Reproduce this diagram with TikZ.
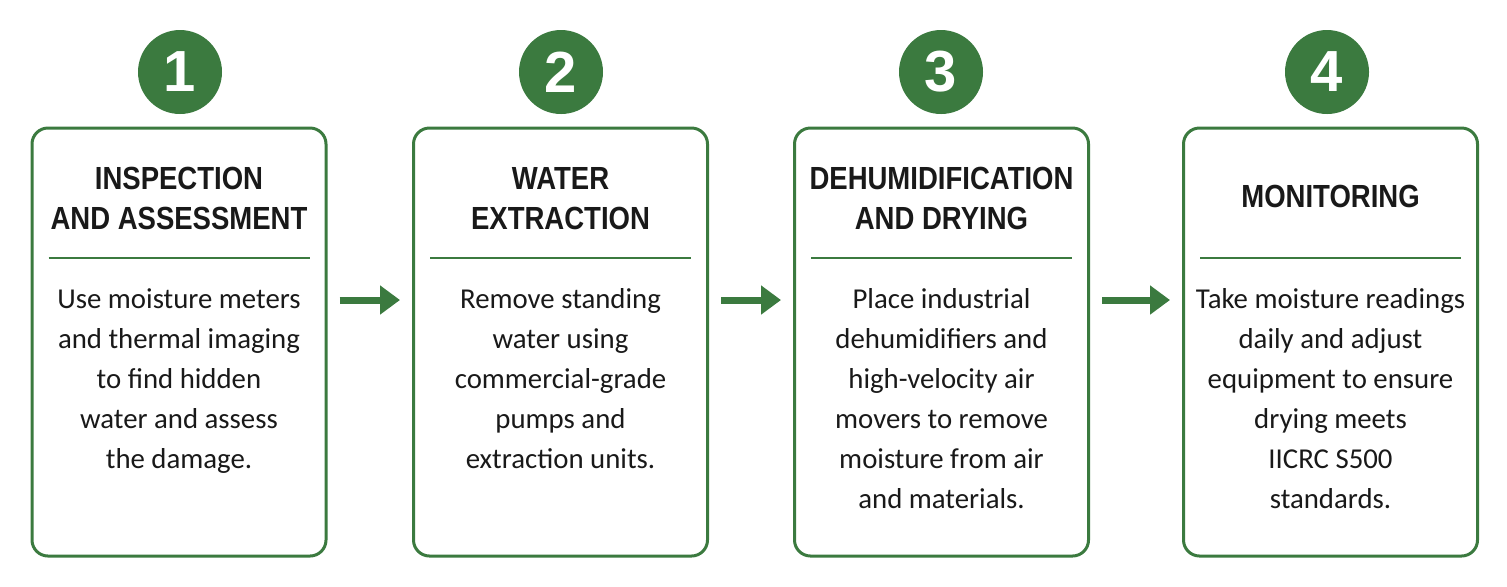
\documentclass[tikz,border=0pt]{standalone}
\usepackage{fontspec}
\setmainfont{Carlito}
\newfontfamily\headfont[FakeStretch=0.86]{Liberation Sans}
\newfontfamily\numfont{Liberation Sans}
\usetikzlibrary{arrows.meta,calc}
\definecolor{grn}{HTML}{3B7A3F}
\begin{document}
\begin{tikzpicture}[x=0.5pt,y=-0.5pt,
  stepbox/.style={draw=grn,line width=1.5pt,rounded corners=8pt,minimum width=147pt,minimum height=214pt,inner sep=0pt,fill=white},
  numdot/.style={circle,fill=grn,minimum size=42pt,inner sep=0pt,text=white,font=\numfont\bfseries\fontsize{29}{30}\selectfont},
  head/.style={anchor=north,align=center,inner sep=0pt,text=black!90,font=\headfont\bfseries\fontsize{16}{20}\selectfont},
  body/.style={anchor=north,align=center,inner sep=0pt,text=black!90,font=\fontsize{14.4}{20}\selectfont},
  sep/.style={draw=grn,line width=1pt},
  flow/.style={draw=grn,line width=3.5pt,-{Triangle[length=10pt,width=14pt]},shorten <=6pt,shorten >=6pt}]
\useasboundingbox (0,0) rectangle (1507,586);
\coordinate (sepline) at (0,258);
\coordinate (arrowrow) at (0,300);

% boxes
\node[stepbox] (b1) at (179,342) {};
\node[stepbox] (b2) at (560.5,342) {};
\node[stepbox] (b3) at (941.5,342) {};
\node[stepbox] (b4) at (1330.5,342) {};

% number circles
\node[numdot] (n1) at (180,72) {1};
\node[numdot] (n2) at (561,72) {2};
\node[numdot] (n3) at (941,72) {3};
\node[numdot] (n4) at (1327,72) {4};

% headings
\node[head] (h1) at (179,161) {\strut INSPECTION\\AND ASSESSMENT};
\node[head] (h2) at (560.5,161) {\strut WATER\\EXTRACTION};
\node[head] (h3) at (941.5,161) {\strut DEHUMIDIFICATION\\AND DRYING};
\node[head] (h4) at (1330.5,179) {\strut MONITORING};

% separators
\foreach \b in {b1,b2,b3,b4}{
  \draw[sep] ($(\b.west |- sepline)+(18,0)$) -- ($(\b.east |- sepline)+(-18,0)$);
}

% body texts
\node[body] (t1) at (179,280) {\strut Use moisture meters\\and thermal imaging\\to find hidden\\water and assess\\the damage.};
\node[body] (t2) at (560.5,280) {\strut Remove standing\\water using\\commercial-grade\\pumps and\\extraction units.};
\node[body] (t3) at (941.5,280) {\strut Place industrial\\dehumidifiers and\\high-velocity air\\movers to remove\\moisture from air\\and materials.};
\node[body] (t4) at (1330.5,280) {\strut Take moisture readings\\daily and adjust\\equipment to ensure\\drying meets\\IICRC S500\\standards.};

% arrows
\draw[flow] (b1.east |- arrowrow) -- (b2.west |- arrowrow);
\draw[flow] (b2.east |- arrowrow) -- (b3.west |- arrowrow);
\draw[flow] (b3.east |- arrowrow) -- (b4.west |- arrowrow);
\end{tikzpicture}
\end{document}
